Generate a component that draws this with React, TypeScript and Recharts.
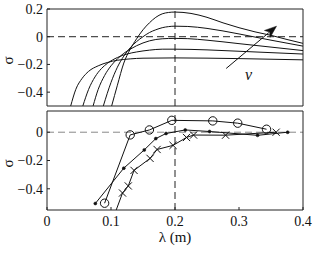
import React from 'react';
import { LineChart, Line, XAxis, YAxis, ReferenceLine, ReferenceDot } from 'recharts';

// Top panel: five sigma(lambda) curves, [lambda, sigma]
const curve1 = [[0.037,-0.5],[0.045,-0.38],[0.055,-0.3],[0.065,-0.25],[0.08,-0.21],[0.095,-0.185],[0.11,-0.17],[0.13,-0.16],[0.15,-0.155],[0.2,-0.153],[0.3,-0.158],[0.4,-0.167]];
const curve2 = [[0.056,-0.5],[0.065,-0.38],[0.075,-0.29],[0.085,-0.23],[0.095,-0.19],[0.11,-0.15],[0.125,-0.125],[0.14,-0.11],[0.16,-0.097],[0.18,-0.09],[0.2,-0.09],[0.25,-0.095],[0.3,-0.105],[0.35,-0.115],[0.4,-0.125]];
const curve3 = [[0.072,-0.5],[0.08,-0.38],[0.09,-0.28],[0.1,-0.21],[0.11,-0.16],[0.12,-0.12],[0.13,-0.09],[0.14,-0.065],[0.15,-0.045],[0.16,-0.03],[0.18,-0.015],[0.2,-0.012],[0.22,-0.014],[0.25,-0.025],[0.3,-0.05],[0.35,-0.075],[0.4,-0.1]];
const curve4 = [[0.088,-0.5],[0.1,-0.33],[0.11,-0.22],[0.12,-0.14],[0.13,-0.08],[0.14,-0.035],[0.15,0.0],[0.16,0.03],[0.17,0.05],[0.18,0.065],[0.19,0.073],[0.2,0.076],[0.22,0.074],[0.25,0.06],[0.3,0.02],[0.35,-0.025],[0.4,-0.068]];
const curve5 = [[0.101,-0.5],[0.11,-0.35],[0.12,-0.19],[0.13,-0.09],[0.14,-0.015],[0.15,0.05],[0.16,0.1],[0.17,0.14],[0.18,0.165],[0.19,0.175],[0.2,0.178],[0.225,0.168],[0.25,0.14],[0.275,0.1],[0.3,0.065],[0.325,0.035],[0.35,0.01],[0.375,-0.02],[0.4,-0.048]];
const topCurves = [curve1, curve2, curve3, curve4, curve5];

// Arrow "v"
const arrowTail = { x: 0.280, y: -0.229 };
const arrowHead = { x: 0.3586, y: 0.076 };
const vLabelPos = { x: 0.315, y: -0.27 };

// Bottom panel series
const circleLambda = [0.090, 0.130, 0.160, 0.195, 0.259, 0.298, 0.343];
const circleSigma = [-0.502, -0.019, 0.016, 0.084, 0.08, 0.064, 0.021];
const dotLambda = [0.0755, 0.12, 0.152, 0.170, 0.186, 0.216, 0.254, 0.329, 0.376];
const dotSigma = [-0.504, -0.254, -0.125, -0.045, -0.009, 0.016, 0.005, -0.022, 0.0];
const crossLambda = [0.104, 0.118, 0.127, 0.136, 0.161, 0.172, 0.197, 0.218, 0.229, 0.279, 0.358];
const crossSigma = [-0.6, -0.43, -0.38, -0.27, -0.185, -0.122, -0.093, -0.037, -0.02, -0.021, 0.0];

const xTicks = [0, 0.1, 0.2, 0.3, 0.4];
const topYTicks = [0.2, 0, -0.2, -0.4];
const botYTicks = [0, -0.2, -0.4];
const xLabel = 'λ (m)';
const yLabel = 'σ';

const FONT = 'Liberation Serif';
const AX = '#222';
const INK = '#111';

const zip = (xs: number[], ys: number[]) => xs.map((x, i) => ({ x, y: ys[i] }));
const fmtY = (v: number) => (v === 0 ? '0' : (v < 0 ? '\u2212' : '') + String(Math.abs(v)));
const fmtX = (v: number) => String(v);

const SigmaLabel = (props: any) => {
  const vb = props.viewBox || { y: 0, height: 0 };
  const x = 8;
  const y = vb.y + vb.height / 2 + 3;
  return (
    <text x={x} y={y} transform={`rotate(-90 ${x} ${y})`} textAnchor="middle" dominantBaseline="central"
      fontFamily={FONT} fontSize={15} fill={INK}>{yLabel}</text>
  );
};

const ArrowShape = (p: any) => {
  const { x1, y1, x2, y2 } = p;
  if (x1 == null) return null;
  const ang = Math.atan2(y2 - y1, x2 - x1);
  const L = 12, W = 4.5;
  const bx = x2 - L * Math.cos(ang), by = y2 - L * Math.sin(ang);
  const nx = -Math.sin(ang), ny = Math.cos(ang);
  const pts = `${x2},${y2} ${bx + W * nx},${by + W * ny} ${bx + 3 * Math.cos(ang)},${by + 3 * Math.sin(ang)} ${bx - W * nx},${by - W * ny}`;
  return (
    <g>
      <line x1={x1} y1={y1} x2={bx + 2 * Math.cos(ang)} y2={by + 2 * Math.sin(ang)} stroke={INK} strokeWidth={1} />
      <polygon points={pts} fill={INK} stroke={INK} strokeWidth={0.5} />
    </g>
  );
};

const VText = (p: any) => (
  <text x={p.cx} y={p.cy} textAnchor="middle" dominantBaseline="central" fontFamily={FONT}
    fontStyle="italic" fontSize={16} fill={INK}>v</text>
);

const CrossDot = (p: any) => {
  const { cx, cy, index } = p;
  if (cx == null || cy == null) return <g key={`c${index}`} />;
  const s = 3.6;
  return (
    <path key={`c${index}`} d={`M${cx - s},${cy - s}L${cx + s},${cy + s}M${cx - s},${cy + s}L${cx + s},${cy - s}`}
      stroke={INK} strokeWidth={1} fill="none" />
  );
};

const tickStyle = { fontFamily: FONT, fontSize: 14, fill: INK };
const axisLineStyle = { stroke: AX, strokeWidth: 1 };
const tickLineStyle = { stroke: AX, strokeWidth: 1 };

export default function App() {
  return (
    <div style={{ position: 'absolute', left: 0, top: 0, width: 316, height: 260, background: '#fff' }}>
      <div style={{ position: 'absolute', left: 0, top: 0 }}>
        <LineChart width={316} height={120} margin={{ top: 8, right: 12, left: 0, bottom: 13 }}>
          <XAxis type="number" dataKey="x" domain={[0, 0.4]} ticks={xTicks} height={1}
            tick={false} tickSize={-3} stroke={AX} axisLine={axisLineStyle} tickLine={tickLineStyle} />
          <XAxis xAxisId="top" orientation="top" type="number" domain={[0, 0.4]} ticks={xTicks} height={1}
            tick={false} tickSize={-3} stroke={AX} axisLine={axisLineStyle} tickLine={tickLineStyle} />
          <YAxis type="number" domain={[-0.5, 0.2]} ticks={topYTicks} width={47}
            tickSize={-3} tickMargin={7} tickFormatter={fmtY} tick={tickStyle} stroke={AX}
            axisLine={axisLineStyle} tickLine={tickLineStyle} label={<SigmaLabel />} />
          <YAxis yAxisId="right" orientation="right" type="number" domain={[-0.5, 0.2]} ticks={topYTicks}
            width={1} tick={false} tickSize={-3} stroke={AX} axisLine={axisLineStyle} tickLine={tickLineStyle} />
          <ReferenceLine y={0} stroke="#222" strokeDasharray="7 4" strokeWidth={1} />
          <ReferenceLine x={0.2} stroke="#222" strokeDasharray="7 4" strokeWidth={1} />
          {topCurves.map((c, i) => (
            <Line key={i} data={c.map(([x, y]) => ({ x, y }))} dataKey="y" type="monotone" stroke={INK}
              strokeWidth={1} dot={false} isAnimationActive={false} />
          ))}
          <ReferenceLine segment={[arrowTail, arrowHead]} shape={<ArrowShape />} />
          <ReferenceDot x={vLabelPos.x} y={vLabelPos.y} r={0} shape={<VText />} />
        </LineChart>
      </div>
      <div style={{ position: 'absolute', left: 0, top: 100 }}>
        <LineChart width={316} height={160} margin={{ top: 10, right: 12, left: 0, bottom: 17 }}>
          <XAxis type="number" dataKey="x" domain={[0, 0.4]} ticks={xTicks} height={33}
            tickSize={-3} tickMargin={9} tickFormatter={fmtX} tick={tickStyle} stroke={AX}
            axisLine={axisLineStyle} tickLine={tickLineStyle}
            label={{ value: xLabel, position: 'insideBottom', offset: 1, style: { fontFamily: FONT, fontSize: 15, fill: INK } }} />
          <XAxis xAxisId="top" orientation="top" type="number" domain={[0, 0.4]} ticks={xTicks} height={1}
            tick={false} tickSize={-3} stroke={AX} axisLine={axisLineStyle} tickLine={tickLineStyle} />
          <YAxis type="number" domain={[-0.55, 0.15]} ticks={botYTicks} width={47}
            tickSize={-3} tickMargin={7} tickFormatter={fmtY} tick={tickStyle} stroke={AX}
            allowDataOverflow axisLine={axisLineStyle} tickLine={tickLineStyle} label={<SigmaLabel />} />
          <YAxis yAxisId="right" orientation="right" type="number" domain={[-0.55, 0.15]} ticks={botYTicks}
            width={1} tick={false} tickSize={-3} stroke={AX} axisLine={axisLineStyle} tickLine={tickLineStyle} />
          <ReferenceLine y={0} stroke="#888" strokeDasharray="7 4" strokeWidth={1} />
          <ReferenceLine x={0.2} stroke="#222" strokeDasharray="7 4" strokeWidth={1} />
          <Line data={zip(crossLambda, crossSigma)} dataKey="y" type="linear" stroke={INK} strokeWidth={1}
            dot={CrossDot} isAnimationActive={false} />
          <Line data={zip(dotLambda, dotSigma)} dataKey="y" type="linear" stroke={INK} strokeWidth={1}
            dot={{ r: 1.5, fill: INK, stroke: INK, strokeWidth: 0.5 }} isAnimationActive={false} />
          <Line data={zip(circleLambda, circleSigma)} dataKey="y" type="linear" stroke={INK} strokeWidth={1}
            dot={{ r: 4.2, fill: 'none', stroke: INK, strokeWidth: 1 }} isAnimationActive={false} />
        </LineChart>
      </div>
    </div>
  );
}
